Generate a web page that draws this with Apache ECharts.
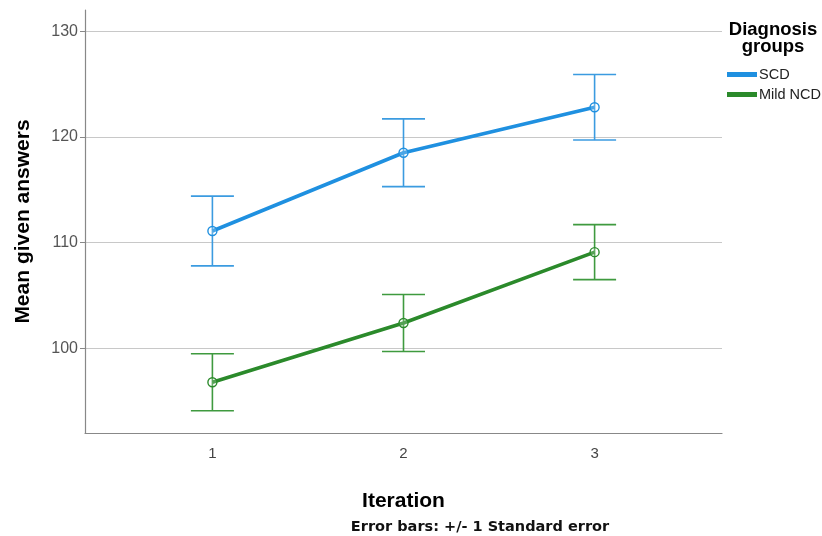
<!DOCTYPE html>
<html>
<head>
<meta charset="utf-8">
<script src="https://cdn.jsdelivr.net/npm/echarts@6/dist/echarts.min.js"></script>
<style>
  html, body { margin: 0; padding: 0; background: #fff; }
  #chart { width: 822px; height: 536px; }
</style>
</head>
<body>
<div id="chart"></div>
<script>
// Iterations on the x axis
const iterations = [1, 2, 3];
// Group means
const scdMean = [111.1, 118.5, 122.8];
const ncdMean = [96.8, 102.4, 109.1];
// Standard errors (+/- 1 SE)
const scdSE = [3.3, 3.2, 3.1];
const ncdSE = [2.7, 2.7, 2.6];
// Value-axis tick labels
const yTicks = [100, 110, 120, 130];

const BLUE = '#1f90e0';
const BLUE_BAR = '#3b9be0';
const GREEN = '#2b8a2b';
const GREEN_BAR = '#3f9a3f';

function pairs(xs, ys) { return xs.map((x, i) => [x, ys[i]]); }
function errRows(xs, m, se) { return xs.map((x, i) => [x, m[i] - se[i], m[i] + se[i]]); }

function errorBarSeries(name, rows, color) {
  return {
    type: 'custom',
    name: name,
    data: rows,
    z: 1,
    silent: true,
    encode: { x: 0, y: [1, 2] },
    renderItem: function (params, api) {
      const x = api.value(0);
      const lo = api.coord([x, api.value(1)]);
      const hi = api.coord([x, api.value(2)]);
      const half = 21.5;
      const style = { stroke: color, lineWidth: 1.6, fill: null };
      return {
        type: 'group',
        children: [
          { type: 'line', shape: { x1: hi[0], y1: hi[1], x2: lo[0], y2: lo[1] }, style: style },
          { type: 'line', shape: { x1: hi[0] - half, y1: hi[1], x2: hi[0] + half, y2: hi[1] }, style: style },
          { type: 'line', shape: { x1: lo[0] - half, y1: lo[1], x2: lo[0] + half, y2: lo[1] }, style: style }
        ]
      };
    }
  };
}

function meanSeries(name, data, color) {
  return {
    type: 'line',
    name: name,
    data: data,
    z: 3,
    symbol: 'circle',
    symbolSize: 9,
    showSymbol: true,
    lineStyle: { color: color, width: 3.6 },
    itemStyle: { color: 'rgba(255,255,255,0.2)', borderColor: color, borderWidth: 1.4 },
    emphasis: { disabled: true }
  };
}

const chart = echarts.init(document.getElementById('chart'), null, { renderer: 'canvas' });

chart.setOption({
  animation: false,
  backgroundColor: '#ffffff',
  grid: { left: 85, right: 100, top: 10, bottom: 103, containLabel: false, outerBoundsMode: 'none' },
  xAxis: {
    type: 'value',
    min: 1 / 3,
    max: 11 / 3,
    name: 'Iteration',
    nameLocation: 'middle',
    nameGap: 58,
    nameTextStyle: { fontFamily: 'Liberation Sans', fontWeight: 'bold', fontSize: 21, color: '#000' },
    axisLine: { show: true, lineStyle: { color: '#888', width: 1.2 } },
    axisTick: { show: false },
    splitLine: { show: false },
    axisLabel: {
      customValues: iterations,
      fontFamily: 'Liberation Sans',
      fontSize: 15,
      color: '#444',
      margin: 13
    }
  },
  yAxis: {
    type: 'value',
    min: 92,
    max: 132,
    name: 'Mean given answers',
    nameLocation: 'middle',
    nameGap: 51,
    nameRotate: 90,
    nameTextStyle: { fontFamily: 'Liberation Sans', fontWeight: 'bold', fontSize: 21, color: '#000' },
    axisLine: { show: true, lineStyle: { color: '#888', width: 1.2 } },
    axisTick: { show: true, customValues: yTicks, length: 5, lineStyle: { color: '#888' } },
    splitLine: { show: true, lineStyle: { color: '#c8c8c8', width: 1.2 } },
    axisLabel: {
      customValues: yTicks,
      fontFamily: 'Liberation Sans',
      fontSize: 16,
      color: '#555',
      margin: 7
    }
  },
  legend: {
    left: 722,
    top: 62,
    orient: 'vertical',
    icon: 'rect',
    itemWidth: 28,
    itemHeight: 3,
    itemGap: 5,
    textStyle: { fontFamily: 'Liberation Sans', fontSize: 14.5, color: '#222', padding: [0, 0, 0, -2] },
    data: [
      { name: 'SCD', itemStyle: { color: BLUE } },
      { name: 'Mild NCD', itemStyle: { color: GREEN } }
    ]
  },
  graphic: [
    {
      type: 'text',
      x: 773,
      y: 21,
      style: {
        text: 'Diagnosis\ngroups',
        align: 'center',
        verticalAlign: 'top',
        fontFamily: 'Liberation Sans',
        fontWeight: 'bold',
        fontSize: 18.5,
        lineHeight: 17.5,
        fill: '#000'
      }
    },
    {
      type: 'text',
      x: 480,
      y: 527,
      style: {
        text: 'Error bars: +/- 1 Standard error',
        align: 'center',
        verticalAlign: 'middle',
        fontFamily: 'DejaVu Sans',
        fontWeight: 'bold',
        fontSize: 14.5,
        fill: '#111'
      }
    }
  ],
  series: [
    errorBarSeries('SCD SE', errRows(iterations, scdMean, scdSE), BLUE_BAR),
    errorBarSeries('Mild NCD SE', errRows(iterations, ncdMean, ncdSE), GREEN_BAR),
    meanSeries('SCD', pairs(iterations, scdMean), BLUE),
    meanSeries('Mild NCD', pairs(iterations, ncdMean), GREEN)
  ]
});
</script>
</body>
</html>
